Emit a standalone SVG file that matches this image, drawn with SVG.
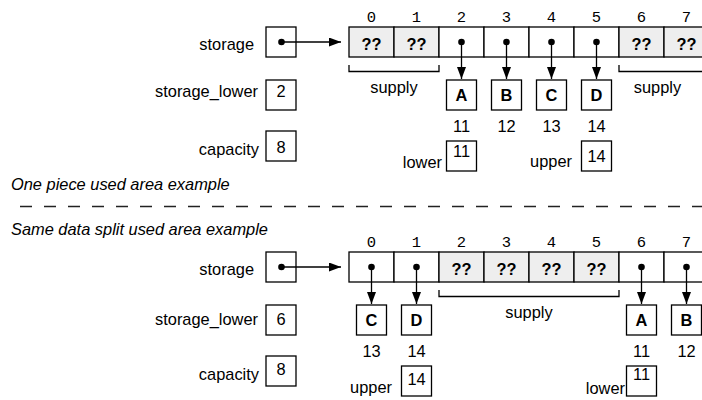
<svg xmlns="http://www.w3.org/2000/svg" width="702" height="400" viewBox="0 0 702 400">
<style>
text{font-family:"Liberation Sans",Arial,sans-serif;font-size:16.4px;fill:#000}
.e{text-anchor:end}
.m{text-anchor:middle}
.idx{font-family:"Liberation Mono","Courier New",monospace;font-size:15.5px;text-anchor:middle}
.b{font-weight:bold;text-anchor:middle}
.it{font-style:italic}
.box{fill:#fff;stroke:#000;stroke-width:1.3}
.g{fill:#eeeeee;stroke:#000;stroke-width:1.3}
.w{fill:#fff;stroke:#000;stroke-width:1.3}
.br{fill:none;stroke:#000;stroke-width:1.3}
.ptr{fill:none;stroke:#000;stroke-width:1.3;marker-start:url(#dot);marker-end:url(#ah)}
</style>
<defs>
<marker id="ah" markerUnits="userSpaceOnUse" markerWidth="12" markerHeight="9" refX="12" refY="4.5" orient="auto"><path d="M0,0 L12,4.5 L0,9 z" fill="#000"/></marker>
<marker id="dot" markerUnits="userSpaceOnUse" markerWidth="8" markerHeight="8" refX="4" refY="4"><circle cx="4" cy="4" r="3.3" fill="#000"/></marker>
</defs>

<!-- ===== Top example ===== -->
<g id="top-storage"><text class="e" x="254" y="50">storage</text><rect class="box" x="266" y="27" width="30" height="30"/></g>
<g id="top-storage-lower"><text class="e" x="258" y="97">storage_lower</text><rect class="box" x="266" y="80" width="30" height="30"/><text class="m" x="281" y="97">2</text></g>
<g id="top-capacity"><text class="e" x="259" y="155">capacity</text><rect class="box" x="266" y="131" width="30" height="30"/><text class="m" x="281" y="153">8</text></g>

<g id="top-array">
<rect class="g" x="349" y="27" width="45" height="30"/>
<rect class="g" x="394" y="27" width="45" height="30"/>
<rect class="w" x="439" y="27" width="45" height="30"/>
<rect class="w" x="484" y="27" width="45" height="30"/>
<rect class="w" x="529" y="27" width="45" height="30"/>
<rect class="w" x="574" y="27" width="45" height="30"/>
<rect class="g" x="619" y="27" width="45" height="30"/>
<rect class="g" x="664" y="27" width="45" height="30"/>
<text class="idx" x="371.5" y="22">0</text><text class="idx" x="416.5" y="22">1</text><text class="idx" x="461.5" y="22">2</text><text class="idx" x="506.5" y="22">3</text><text class="idx" x="551.5" y="22">4</text><text class="idx" x="596.5" y="22">5</text><text class="idx" x="641.5" y="22">6</text><text class="idx" x="686.5" y="22">7</text>
<text class="b" x="371.5" y="50">??</text><text class="b" x="416.5" y="50">??</text><text class="b" x="641.5" y="50">??</text><text class="b" x="686.5" y="50">??</text>
<path class="br" d="M349,65 V71.5 H439 V65 M619,65 V71.5 H702"/>
<text class="m" x="394" y="93">supply</text><text class="m" x="657.5" y="93">supply</text>
</g>

<g id="top-A"><rect class="box" x="446.5" y="80" width="30" height="30"/><text class="b" x="461.5" y="101">A</text><text class="m" x="461.5" y="132">11</text></g>
<g id="top-B"><rect class="box" x="491.5" y="80" width="30" height="30"/><text class="b" x="506.5" y="101">B</text><text class="m" x="506.5" y="132">12</text></g>
<g id="top-C"><rect class="box" x="536.5" y="80" width="30" height="30"/><text class="b" x="551.5" y="101">C</text><text class="m" x="551.5" y="132">13</text></g>
<g id="top-D"><rect class="box" x="581.5" y="80" width="30" height="30"/><text class="b" x="596.5" y="101">D</text><text class="m" x="596.5" y="132">14</text></g>
<g id="top-lower"><text class="e" x="442" y="168">lower</text><rect class="box" x="446.5" y="141" width="30" height="30"/><text class="m" x="461.5" y="157">11</text></g>
<g id="top-upper"><text class="e" x="572" y="167">upper</text><rect class="box" x="581.5" y="141" width="30" height="30"/><text class="m" x="596.5" y="162">14</text></g>

<g id="captions">
<text class="it" x="11" y="190">One piece used area example</text>
<line x1="20" y1="206.5" x2="702" y2="206.5" stroke="#222" stroke-width="1.5" stroke-dasharray="12 12"/>
<text class="it" x="11" y="235">Same data split used area example</text>
</g>

<!-- ===== Bottom example ===== -->
<g id="bot-storage"><text class="e" x="254" y="275">storage</text><rect class="box" x="266" y="252" width="30" height="30"/></g>
<g id="bot-storage-lower"><text class="e" x="258" y="325">storage_lower</text><rect class="box" x="266" y="305" width="30" height="30"/><text class="m" x="281" y="325">6</text></g>
<g id="bot-capacity"><text class="e" x="259" y="380">capacity</text><rect class="box" x="266" y="356" width="30" height="30"/><text class="m" x="281" y="375">8</text></g>

<g id="bot-array">
<rect class="w" x="349" y="252" width="45" height="30"/>
<rect class="w" x="394" y="252" width="45" height="30"/>
<rect class="g" x="439" y="252" width="45" height="30"/>
<rect class="g" x="484" y="252" width="45" height="30"/>
<rect class="g" x="529" y="252" width="45" height="30"/>
<rect class="g" x="574" y="252" width="45" height="30"/>
<rect class="w" x="619" y="252" width="45" height="30"/>
<rect class="w" x="664" y="252" width="45" height="30"/>
<text class="idx" x="371.5" y="247">0</text><text class="idx" x="416.5" y="247">1</text><text class="idx" x="461.5" y="247">2</text><text class="idx" x="506.5" y="247">3</text><text class="idx" x="551.5" y="247">4</text><text class="idx" x="596.5" y="247">5</text><text class="idx" x="641.5" y="247">6</text><text class="idx" x="686.5" y="247">7</text>
<text class="b" x="461.5" y="275">??</text><text class="b" x="506.5" y="275">??</text><text class="b" x="551.5" y="275">??</text><text class="b" x="596.5" y="275">??</text>
<path class="br" d="M439,290 V296.5 H619 V290"/>
<text class="m" x="529" y="318">supply</text>
</g>

<g id="bot-C"><rect class="box" x="356.5" y="305" width="30" height="30"/><text class="b" x="371.5" y="326">C</text><text class="m" x="371.5" y="357">13</text></g>
<g id="bot-D"><rect class="box" x="401.5" y="305" width="30" height="30"/><text class="b" x="416.5" y="326">D</text><text class="m" x="416.5" y="357">14</text></g>
<g id="bot-A"><rect class="box" x="626.5" y="305" width="30" height="30"/><text class="b" x="641.5" y="326">A</text><text class="m" x="641.5" y="357">11</text></g>
<g id="bot-B"><rect class="box" x="671.5" y="305" width="30" height="30"/><text class="b" x="686.5" y="326">B</text><text class="m" x="686.5" y="357">12</text></g>
<g id="bot-upper"><text class="e" x="392" y="393">upper</text><rect class="box" x="401.5" y="366" width="30" height="30"/><text class="m" x="416.5" y="385">14</text></g>
<g id="bot-lower"><text class="e" x="625" y="394">lower</text><rect class="box" x="626.5" y="366" width="30" height="30"/><text class="m" x="641.5" y="380">11</text></g>

<g id="connectors">
<path class="ptr" d="M281.5,42 H341"/>
<path class="ptr" d="M461.5,42 V79"/>
<path class="ptr" d="M506.5,42 V79"/>
<path class="ptr" d="M551.5,42 V79"/>
<path class="ptr" d="M596.5,42 V79"/>
<path class="ptr" d="M281.5,267 H341"/>
<path class="ptr" d="M371.5,267 V304"/>
<path class="ptr" d="M416.5,267 V304"/>
<path class="ptr" d="M641.5,267 V304"/>
<path class="ptr" d="M686.5,267 V304"/>
</g>
</svg>
